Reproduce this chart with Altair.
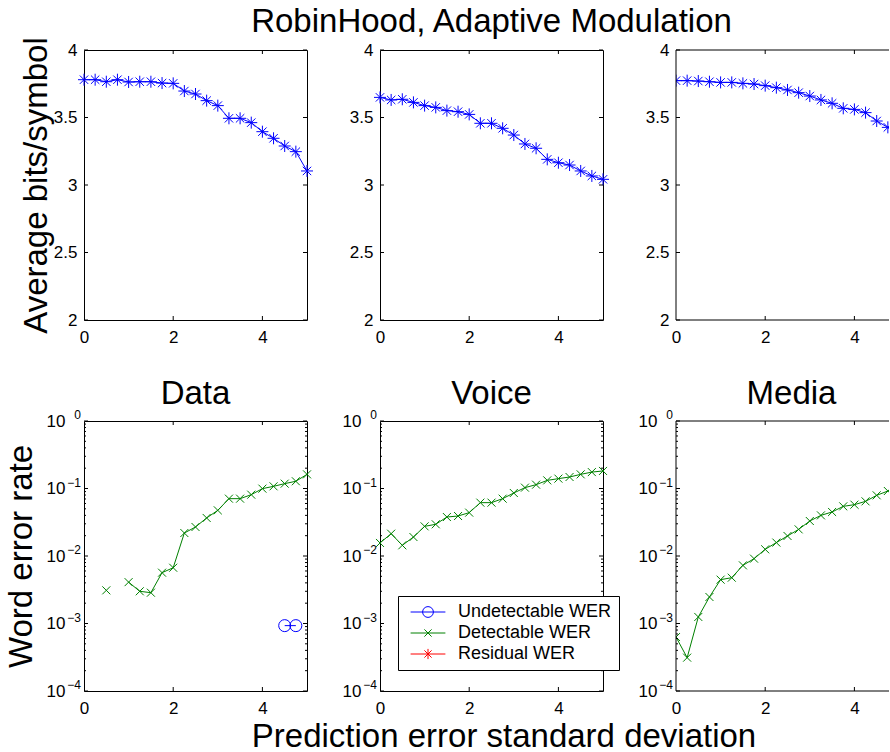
import altair as alt
import pandas as pd

FONT = "Liberation Sans"
BLUE = "#0000ff"
GREEN = "#008000"
RED = "#ff0000"

xs = [0, 0.25, 0.5, 0.75, 1, 1.25, 1.5, 1.75, 2, 2.25, 2.5, 2.75, 3, 3.25, 3.5,
      3.75, 4, 4.25, 4.5, 4.75, 5]

data_bits = [3.78, 3.78, 3.765, 3.78, 3.763, 3.765, 3.765, 3.755, 3.753, 3.696, 3.674,
             3.625, 3.588, 3.494, 3.494, 3.462, 3.395, 3.346, 3.289, 3.247, 3.104]
voice_bits = [3.649, 3.63, 3.635, 3.612, 3.588, 3.575, 3.551, 3.543, 3.523, 3.457, 3.457,
              3.42, 3.37, 3.304, 3.272, 3.19, 3.165, 3.148, 3.104, 3.067, 3.042]
media_bits = [3.773, 3.773, 3.77, 3.765, 3.76, 3.76, 3.753, 3.748, 3.736, 3.721, 3.704,
              3.684, 3.659, 3.63, 3.605, 3.568, 3.56, 3.536, 3.474, 3.427, 3.38]

data_det = [None, None, 3.1e-3, None, 4.1e-3, 3.0e-3, 2.86e-3, 5.66e-3, 6.7e-3, 2.19e-2,
            2.69e-2, 3.66e-2, 4.75e-2, 7.07e-2, 7.07e-2, 8.1e-2, 9.95e-2, 0.1077, 0.118,
            0.128, 0.162]
data_undet = [None] * 18 + [9.3e-4, 9.3e-4, None]
voice_det = [0.0156, 0.0214, 0.0144, 0.0191, 0.0275, 0.0295, 0.0378, 0.0391, 0.0439,
             0.0617, 0.0617, 0.0707, 0.0858, 0.103, 0.114, 0.132, 0.140, 0.148, 0.162,
             0.175, 0.182]
media_det = [6.3e-4, 3.12e-4, 1.25e-3, 2.47e-3, 4.46e-3, 4.77e-3, 7.27e-3, 9.13e-3,
             0.01256, 0.0158, 0.0198, 0.0248, 0.033, 0.040, 0.0449, 0.0544, 0.0576,
             0.0645, 0.0792, 0.0918, 0.105]

series_names = ["Undetectable WER", "Detectable WER", "Residual WER"]
series_colors = [BLUE, GREEN, RED]

lin_ticks = [2, 2.5, 3, 3.5, 4]
x_ticks = [0, 2, 4]
log_major = [1e-4, 1e-3, 1e-2, 1e-1, 1]
log_exps = ["\u22124", "\u22123", "\u22122", "\u22121", "0"]
log_minor = [k * 10.0 ** e for e in range(-4, 0) for k in range(2, 10)]

top_title = "RobinHood, Adaptive Modulation"
bottom_titles = ["Data", "Voice", "Media"]
ylabel_top = "Average bits/symbol"
ylabel_bottom = "Word error rate"
xlabel = "Prediction error standard deviation"

BIG = 33
W, H = 223, 270
W3 = 213                       # last column is cut by the page edge
X3_MAX = 5 * W3 / W
ASTER = "M-1,0L1,0M0,-1L0,1M-0.7,-0.7L0.7,0.7M-0.7,0.7L0.7,-0.7"
XMARK = "M-1,-1L1,1M-1,1L1,-1"
LEG_PATHS = [
    "M-2.9,0L2.9,0M-0.9,0A0.9,0.9 0 1,0 0.9,0A0.9,0.9 0 1,0 -0.9,0",
    "M-2.9,0L2.9,0M-0.6,-0.6L0.6,0.6M-0.6,0.6L0.6,-0.6",
    "M-2.9,0L2.9,0M0,-0.85L0,0.85M-0.6,-0.6L0.6,0.6M-0.6,0.6L0.6,-0.6",
]

yscale_lin = alt.Scale(domain=[2, 4], nice=False, zero=False)
yscale_log = alt.Scale(type="log", domain=[1e-4, 1], nice=False)


def make_xscale(cut):
    return alt.Scale(domain=[0, X3_MAX if cut else 5], nice=False, zero=False)


def x_axis(title=None, title_x=None):
    kw = dict(values=x_ticks, ticks=False, tickSize=0, domain=False, grid=False,
              labelPadding=9, labelFontSize=17, labelColor="black", labelFont=FONT,
              labelFlush=False, labelOverlap=False, format="~g")
    if title:
        kw.update(title=title, titleFontSize=BIG, titleFont=FONT, titleFontWeight="normal",
                  titleColor="black", titlePadding=4)
        if title_x is not None:
            kw.update(titleX=title_x)
    else:
        kw.update(title=None)
    return alt.Axis(**kw)


def y_axis(log=False, title=None):
    kw = dict(values=log_major if log else lin_ticks, ticks=False, tickSize=0, domain=False,
              grid=False, labelPadding=19 if log else 7, labelFontSize=17,
              labelColor="black", labelFont=FONT, labelFlush=False, labelOverlap=False)
    if log:
        kw.update(labelExpr="'10'")
    else:
        kw.update(format="~g")
    if title:
        kw.update(title=title, titleFontSize=BIG, titleFont=FONT, titleFontWeight="normal",
                  titleColor="black", titlePadding=8 if log else 0)
    else:
        kw.update(title=None)
    return alt.Axis(**kw)


def tick_layers(xax, yax, xsc, w, cut, log=False):
    layers = []
    xt = pd.DataFrame({"t": [2, 4]})
    for y1, y2 in [(0, 4), (H - 4, H)]:
        layers.append(alt.Chart(xt).mark_rule(color="black", strokeWidth=1).encode(
            x=alt.X("t:Q", scale=xsc, axis=xax), y=alt.value(y1), y2=alt.value(y2)))
    ysc = yscale_log if log else yscale_lin
    groups = [(log_major if log else lin_ticks, 4)]
    if log:
        groups.append((log_minor, 2))
    for vals, ln in groups:
        yt = pd.DataFrame({"t": vals})
        sides = [(0, ln)] if cut else [(0, ln), (w - ln, w)]
        for x1, x2 in sides:
            layers.append(alt.Chart(yt).mark_rule(color="black", strokeWidth=1).encode(
                y=alt.Y("t:Q", scale=ysc, axis=yax), x=alt.value(x1), x2=alt.value(x2)))
    if log:
        ed = pd.DataFrame({"t": log_major, "e": log_exps})
        layers.append(alt.Chart(ed).mark_text(align="right", baseline="middle", fontSize=12,
                                              font=FONT, color="black", dy=-6).encode(
            y=alt.Y("t:Q", scale=ysc, axis=yax), x=alt.value(-3), text="e:N"))
    if cut:
        fr = pd.DataFrame({"a": [0]})
        rule = alt.Chart(fr).mark_rule(color="black", strokeWidth=1)
        layers += [
            rule.encode(x=alt.value(0), x2=alt.value(w), y=alt.value(0)),
            rule.encode(x=alt.value(0), x2=alt.value(w), y=alt.value(H)),
            rule.encode(x=alt.value(0), y=alt.value(0), y2=alt.value(H)),
        ]
    return layers


def panel_title(text, dx=0, dy=0):
    kw = dict(fontSize=BIG, font=FONT, fontWeight="normal", color="black",
              anchor="middle", frame="group", offset=2)
    if dx:
        kw.update(dx=dx)
    if dy:
        kw.update(dy=dy)
    return alt.TitleParams(text, **kw)


def finish(ch, w, cut, title, dy=0):
    props = dict(width=w, height=H)
    if title:
        props["title"] = panel_title(title, (W - w) / 2 + 4 if cut else 0, dy)
    if cut:
        props["view"] = alt.ViewBackground(stroke="transparent")
    return ch.properties(**props)


def top_panel(vals, title=None, ytitle=None, cut=False):
    w = W3 if cut else W
    xsc = make_xscale(cut)
    df = pd.DataFrame({"x": xs, "y": vals})
    xax = x_axis()
    yax = y_axis(False, ytitle)
    enc = dict(x=alt.X("x:Q", scale=xsc, axis=xax),
               y=alt.Y("y:Q", scale=yscale_lin, axis=yax))
    line = alt.Chart(df).mark_line(color=BLUE, strokeWidth=1, clip=cut).encode(**enc)
    pts = alt.Chart(df).mark_point(shape=ASTER, size=144, color=BLUE, filled=False,
                                   strokeWidth=1, opacity=1, clip=cut).encode(**enc)
    ch = alt.layer(line, pts, *tick_layers(xax, yax, xsc, w, cut, False))
    return finish(ch, w, cut, title)


def segments(vals):
    rows, seg = [], 0
    prev = None
    for x, v in zip(xs, vals):
        if v is None:
            if prev is not None:
                seg += 1
            prev = None
            continue
        rows.append({"x": x, "y": v, "seg": seg})
        prev = v
    return pd.DataFrame(rows)


def bottom_panel(det, title, undet=None, ytitle=None, xtitle=None, legend=False, cut=False):
    w = W3 if cut else W
    xsc = make_xscale(cut)
    layers = []
    xax = x_axis(xtitle, W / 2 + 12 if xtitle else None)
    yax = y_axis(True, ytitle)
    for vals, color, shape, size in [(det, GREEN, XMARK, 64), (undet, BLUE, "circle", 144)]:
        if vals is None:
            continue
        df = segments(vals)
        enc = dict(x=alt.X("x:Q", scale=xsc, axis=xax),
                   y=alt.Y("y:Q", scale=yscale_log, axis=yax))
        layers.append(alt.Chart(df).mark_line(color=color, strokeWidth=1, clip=cut).encode(
            detail="seg:N", **enc))
        layers.append(alt.Chart(df).mark_point(shape=shape, size=size, color=color,
                                               filled=False, strokeWidth=1, opacity=1,
                                               clip=cut).encode(**enc))
    if legend:
        ldf = pd.DataFrame({"series": series_names, "x": [0, 0, 0], "y": [1e-4] * 3})
        leg = alt.Legend(title=None, orient="none", legendX=18, legendY=175,
                         fillColor="white", strokeColor="black", padding=7,
                         symbolSize=144, symbolOffset=14, labelOffset=21, rowPadding=3,
                         labelFontSize=18, labelFont=FONT, labelColor="black",
                         symbolStrokeWidth=1, symbolOpacity=1, labelLimit=0,
                         cornerRadius=0, symbolFillColor="transparent")
        layers.append(alt.Chart(ldf).mark_point(filled=False, opacity=0).encode(
            x=alt.X("x:Q", scale=xsc, axis=xax),
            y=alt.Y("y:Q", scale=yscale_log, axis=yax),
            color=alt.Color("series:N", scale=alt.Scale(domain=series_names,
                                                        range=series_colors), legend=leg),
            shape=alt.Shape("series:N", scale=alt.Scale(domain=series_names,
                                                        range=LEG_PATHS), legend=leg)))
    ch = alt.layer(*layers, *tick_layers(xax, yax, xsc, w, cut, True))
    return finish(ch, w, cut, title, dy=4)


p1 = top_panel(data_bits, ytitle=ylabel_top)
p2 = top_panel(voice_bits, title=top_title)
p3 = top_panel(media_bits, cut=True)
b1 = bottom_panel(data_det, bottom_titles[0], undet=data_undet, ytitle=ylabel_bottom)
b2 = bottom_panel(voice_det, bottom_titles[1], xtitle=xlabel, legend=True)
b3 = bottom_panel(media_det, bottom_titles[2], cut=True)

chart = alt.concat(p1, p2, p3, b1, b2, b3, columns=3, bounds="flush",
                   spacing={"row": 101, "column": 73}).resolve_scale(
    color="independent", shape="independent").properties(
    padding={"left": 4, "top": 5, "right": 0, "bottom": 0}, background="white"
).configure(font=FONT).configure_view(stroke="black", strokeWidth=1)

chart.save("out.html", embed_options={"renderer": "svg", "actions": False})
